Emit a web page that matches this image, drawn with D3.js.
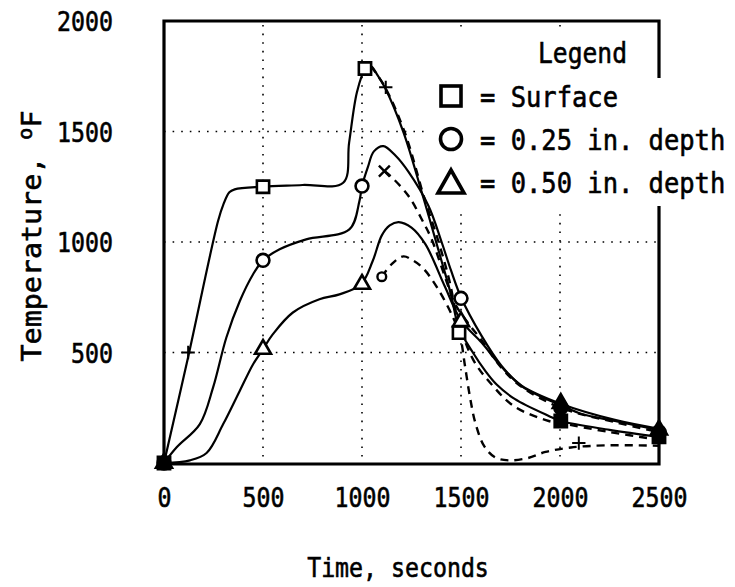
<!DOCTYPE html>
<html><head><meta charset="utf-8">
<script src="https://cdn.jsdelivr.net/npm/d3@7"></script>
<style>
body{margin:0;background:#fff}
text{font-family:"DejaVu Sans Mono",monospace;fill:#000;stroke:#000;stroke-width:0.6px}
</style>
</head><body>
<svg id="chart" width="735" height="587"></svg>
<script>
// ---------- data (time s, temperature °F) ----------
const xTicks = [0, 500, 1000, 1500, 2000, 2500];
const yTicks = [500, 1000, 1500, 2000];
const xGrid = [500, 1000, 1500, 2000];
const yGrid = [500, 1000, 1500];
const legendLabels = ["= Surface", "= 0.25 in. depth", "= 0.50 in. depth"];
const legendTitle = "Legend";
const xTitle = "Time, seconds";
const yTitle = "Temperature, ";
const yUnit = "F";

const surfaceSolid = [[0,0],[122,480],[273,1095],[300,1170],[330,1225],[357,1238],[500,1250],[700,1258],[905,1268],[935,1450],[975,1680],[1015,1780],[1045,1795],[1075,1760],[1115,1700],[1210,1495],[1310,1200],[1400,920],[1450,760],[1490,610],[1560,500],[1620,420],[1680,355],[1771,290],[1943,213],[2004,190],[2250,150],[2500,118]];
const depth25Solid = [[0,0],[64,71],[181,176],[248,342],[315,568],[383,733],[450,854],[500,917],[584,967],[718,1012],[936,1057],[987,1185],[1000,1253],[1030,1340],[1060,1410],[1108,1434],[1170,1390],[1235,1317],[1336,1163],[1402,1000],[1450,870],[1500,750],[1604,575],[1705,439],[1806,348],[1908,299],[2004,262],[2110,222],[2277,190],[2500,150]];
const depth50Solid = [[0,0],[131,12],[215,45],[299,176],[383,327],[450,447],[500,515],[550,583],[651,681],[785,741],[886,763],[995,809],[1054,914],[1100,1030],[1140,1075],[1185,1090],[1250,1065],[1320,990],[1418,800],[1500,645],[1604,545],[1705,435],[1806,350],[2004,268],[2277,195],[2500,155]];
const surfaceDashed = [[1045,1795],[1113,1706],[1215,1498],[1316,1195],[1387,1000],[1440,830],[1482,660],[1560,470],[1660,350],[1771,255],[1943,190],[2004,180],[2250,140],[2500,105]];
const depth25Dashed = [[1113,1321],[1149,1294],[1235,1208],[1301,1104],[1351,1014],[1418,845],[1470,720],[1530,640],[1604,555],[1705,430],[1806,345],[2004,250],[2277,185],[2500,140]];
const depth50Dashed = [[1100,843],[1150,900],[1209,935],[1260,915],[1309,881],[1382,790],[1455,668],[1495,575],[1520,440],[1545,300],[1573,180],[1618,75],[1673,25],[1740,12],[1836,22],[1927,50],[2055,70],[2236,80],[2500,78]];

const squareMarks = [[0,0],[500,1250],[1015,1785],[1490,590],[2004,190],[2500,118]];
const circleMarks = [[0,0],[500,917],[1000,1253],[1500,745],[2004,250],[2500,140]];
const triangleMarks = [[0,0],[500,515],[1000,809],[1500,640],[2004,270],[2500,150]];
const plusMarks = [[122,500],[1120,1700],[2095,90]];
const crossMarks = [[1113,1321]];
const smallCircleMarks = [[1100,843]];

// ---------- layout ----------
const svg = d3.select("#chart");
const L = 164, R = 659, T = 21, B = 463;
const x = d3.scaleLinear().domain([0, 2500]).range([L, R]);
const y = d3.scaleLinear().domain([0, 2000]).range([B, T]);

function label(g, tx, ty, s, size, sx, anchor) {
  return g.append("text")
    .attr("transform", `translate(${tx},${ty}) scale(${sx},1)`)
    .attr("text-anchor", anchor || "start")
    .style("font-size", size + "px")
    .text(s);
}

// grid (dotted)
const grid = svg.append("g").attr("stroke", "#000").attr("stroke-width", 1.6)
  .attr("stroke-dasharray", "1.6,7").attr("fill", "none");
grid.selectAll(".gx").data(xGrid).join("line")
  .attr("x1", d => x(d)).attr("x2", d => x(d)).attr("y1", T + 4).attr("y2", B);
grid.selectAll(".gy").data(yGrid).join("line")
  .attr("y1", d => y(d)).attr("y2", d => y(d)).attr("x1", L).attr("x2", R);

// legend background
svg.append("rect").attr("x", 425).attr("y", 30).attr("width", 234).attr("height", 178).attr("fill", "#fff");
svg.append("rect").attr("x", 659).attr("y", 78).attr("width", 76).attr("height", 130).attr("fill", "#fff");

// curves
const line = d3.line().x(d => x(d[0])).y(d => y(d[1])).curve(d3.curveCatmullRom.alpha(0.5));
const curves = svg.append("g").attr("fill", "none").attr("stroke", "#000").attr("stroke-linejoin", "round");
[surfaceSolid, depth25Solid, depth50Solid].forEach(s =>
  curves.append("path").attr("d", line(s)).attr("stroke-width", 2.2));
[surfaceDashed, depth25Dashed, depth50Dashed].forEach(s =>
  curves.append("path").attr("d", line(s)).attr("stroke-width", 2.4).attr("stroke-dasharray", "8,6"));

// markers
const mk = svg.append("g").attr("stroke", "#000").attr("stroke-width", 2.6);
const fillFor = d => (d[0] >= 2000 || d[0] === 0) ? "#000" : "#fff";
mk.selectAll(".sq").data(squareMarks).join("path")
  .attr("d", d3.symbol(d3.symbolSquare, 150))
  .attr("transform", d => `translate(${x(d[0])},${y(d[1])})`).attr("fill", fillFor);
mk.selectAll(".ci").data(circleMarks).join("path")
  .attr("d", d3.symbol(d3.symbolCircle, 130))
  .attr("transform", d => `translate(${x(d[0])},${y(d[1])})`).attr("fill", fillFor);
mk.selectAll(".tr").data(triangleMarks).join("path")
  .attr("d", d3.symbol(d3.symbolTriangle, 110))
  .attr("transform", d => `translate(${x(d[0])},${y(d[1])})`).attr("fill", fillFor);
mk.selectAll(".pl").data(plusMarks).join("path")
  .attr("d", d3.symbol(d3.symbolPlus || d3.symbolCross, 60))
  .attr("transform", d => `translate(${x(d[0])},${y(d[1])})`).attr("fill", "none").attr("stroke-width", 2);
mk.selectAll(".cr").data(crossMarks).join("path")
  .attr("d", d3.symbol(d3.symbolX, 80))
  .attr("transform", d => `translate(${x(d[0])},${y(d[1])})`).attr("fill", "none").attr("stroke-width", 2.4);
mk.selectAll(".sc").data(smallCircleMarks).join("path")
  .attr("d", d3.symbol(d3.symbolCircle, 60))
  .attr("transform", d => `translate(${x(d[0])},${y(d[1])})`).attr("fill", "#fff").attr("stroke-width", 2.4);

// frame
const fr = svg.append("g").attr("stroke", "#000").attr("stroke-width", 3.2).attr("fill", "none");
fr.append("path").attr("d", `M${R},78 V${T} H${L} V${B + 1} H${R} V206`);

// axes
const xa = svg.append("g").attr("transform", `translate(0,${B + 25})`)
  .call(d3.axisBottom(x).tickValues(xTicks).tickSize(0).tickPadding(0).tickFormat(d3.format("d")));
const ya = svg.append("g").attr("transform", `translate(113,0)`)
  .call(d3.axisLeft(y).tickValues(yTicks).tickSize(0).tickPadding(0).tickFormat(d3.format("d")));
[xa, ya].forEach(a => {
  a.select(".domain").remove();
  a.selectAll("text").style("font-size", "27px").style("font-family", '"DejaVu Sans Mono",monospace')
    .attr("fill", "#000").attr("transform", "scale(0.86,1)");
});
xa.selectAll("text").attr("dy", "0.71em").attr("y", 0);
ya.selectAll("text").attr("dy", "0.36em").attr("x", 0);

// titles
label(svg, 398, 577, xTitle, 27, 0.86, "middle");
const yt = svg.append("text")
  .attr("transform", "translate(41,236) rotate(-90) scale(1.05,1)")
  .attr("text-anchor", "middle").style("font-size", "27px");
yt.append("tspan").text(yTitle);
yt.append("tspan").attr("dy", -9).style("font-size", "19px").text("o");
yt.append("tspan").attr("dy", 9).text(yUnit);

// legend
label(svg, 538, 63, legendTitle, 28, 0.88, "start");
const lg = svg.append("g").attr("stroke", "#000").attr("stroke-width", 3.6).attr("fill", "none");
lg.append("rect").attr("x", 441).attr("y", 86).attr("width", 20).attr("height", 20);
lg.append("circle").attr("cx", 451).attr("cy", 139).attr("r", 10.5);
lg.append("path").attr("d", "M438,193 L451,170 L464,193 Z");
legendLabels.forEach((s, i) => label(svg, 480, 107 + i * 43, s, 28, 0.91, "start"));
</script>
</body></html>
